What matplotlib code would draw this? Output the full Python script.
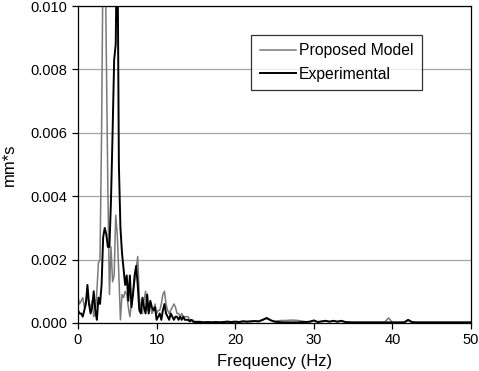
import numpy as np
import matplotlib
matplotlib.use("Agg")
import matplotlib.pyplot as plt
from matplotlib.ticker import FormatStrFormatter

plt.rcParams["font.family"] = ["Liberation Sans", "DejaVu Sans"]

# frequency grid: 0.2 Hz steps up to 15 Hz, then 0.5 Hz steps to 50 Hz
freq = np.round(np.concatenate([np.arange(0, 15.01, 0.2), np.arange(15.5, 50.01, 0.5)]), 2)

model_low = [
    0.0008, 0.0006, 0.0007, 0.0008, 0.0005, 0.0007, 0.0009, 0.0006, 0.0005, 0.0007,
    0.0002, 0.0003, 0.0010, 0.0019, 0.0020, 0.0060, 0.0120, 0.0130, 0.0085, 0.0042,
    0.0009, 0.0024, 0.0013, 0.0015, 0.0034, 0.0028, 0.0015, 0.0001, 0.0009, 0.0008,
    0.0010, 0.0009, 0.0005, 0.0002, 0.0006, 0.0010, 0.0013, 0.0017, 0.0021, 0.0008,
    0.0004, 0.0003, 0.0007, 0.0010, 0.0004, 0.0005, 0.0006, 0.0003, 0.0004, 0.0006,
    0.0003, 0.0004, 0.0004, 0.0006, 0.0009, 0.0010, 0.0006, 0.0004, 0.0003, 0.0004,
    0.0005, 0.0006, 0.0005, 0.0003, 0.0003, 0.0002, 0.0003, 0.0002, 0.0002, 0.0002,
    0.0002, 0.0001, 0.0001, 0.0001, 0.00005, 0.00005,
]
model_high = [
    0.00005, 0.00003, 0.00004, 0.00003, 0.00004, 0.00003, 0.00004, 0.00005, 0.00004, 0.00005,
    0.00004, 0.00006, 0.00005, 0.00006, 0.00007, 0.00006, 0.00010, 0.00014, 0.00008, 0.00006,
    0.00007, 0.00008, 0.00008, 0.00009, 0.00009, 0.00008, 0.00006, 0.00004, 0.00005, 0.00008,
    0.00004, 0.00005, 0.00006, 0.00005, 0.00006, 0.00005, 0.00006, 0.00004, 0.00003, 0.00002,
    0.00002, 0.00002, 0.00002, 0.00002, 0.00002, 0.00002, 0.00002, 0.00002, 0.00016, 0.00002,
    0.00002, 0.00002, 0.00002, 0.00008, 0.00002, 0.00002, 0.00002, 0.00002, 0.00002, 0.00002,
    0.00002, 0.00002, 0.00002, 0.00002, 0.00002, 0.00002, 0.00002, 0.00002, 0.00002, 0.00002,
]
exp_low = [
    0.0004, 0.0003, 0.0003, 0.0002, 0.0004, 0.0006, 0.0012, 0.0006, 0.0003, 0.0005,
    0.0010, 0.0004, 0.0001, 0.0008, 0.0006, 0.0012, 0.0027, 0.0030, 0.0028, 0.0024,
    0.0024, 0.0039, 0.0060, 0.0083, 0.0088, 0.0130, 0.0050, 0.0030, 0.0022, 0.0017,
    0.0012, 0.0015, 0.0007, 0.0015, 0.0005, 0.0009, 0.0015, 0.0018, 0.0012, 0.0004,
    0.0003, 0.0008, 0.0005, 0.0003, 0.0009, 0.0003, 0.0007, 0.0005, 0.0004, 0.0005,
    0.0001, 0.0002, 0.0003, 0.0001, 0.0004, 0.0006, 0.0003, 0.0002, 0.0001, 0.0003,
    0.0002, 0.0001, 0.0002, 0.0002, 0.0001, 0.0002, 0.0001, 0.0002, 0.0001, 0.0001,
    0.0001, 0.00005, 0.0001, 0.00005, 0.00003, 0.00003,
]
exp_high = [
    0.00003, 0.00002, 0.00003, 0.00002, 0.00003, 0.00002, 0.00003, 0.00004, 0.00003, 0.00004,
    0.00003, 0.00005, 0.00004, 0.00005, 0.00006, 0.00005, 0.00010, 0.00016, 0.00009, 0.00004,
    0.00003, 0.00002, 0.00002, 0.00002, 0.00002, 0.00002, 0.00003, 0.00003, 0.00004, 0.00008,
    0.00003, 0.00005, 0.00007, 0.00004, 0.00007, 0.00004, 0.00007, 0.00003, 0.00002, 0.00002,
    0.00002, 0.00002, 0.00002, 0.00002, 0.00002, 0.00002, 0.00002, 0.00002, 0.00002, 0.00002,
    0.00002, 0.00002, 0.00002, 0.00010, 0.00003, 0.00002, 0.00002, 0.00002, 0.00002, 0.00002,
    0.00002, 0.00002, 0.00002, 0.00002, 0.00002, 0.00002, 0.00002, 0.00002, 0.00002, 0.00002,
]

model = np.array(model_low + model_high)
experimental = np.array(exp_low + exp_high)

fig = plt.figure(figsize=(4.79, 3.71), dpi=100)
ax = fig.add_axes([78 / 479, 1 - 323 / 371, (471 - 78) / 479, (323 - 6) / 371])

ax.plot(freq, model, color="#7a7a7a", linewidth=1.1, label="Proposed Model")
ax.plot(freq, experimental, color="black", linewidth=1.4, label="Experimental")

ax.set_xlim(0, 50)
ax.set_ylim(0, 0.010)
ax.set_xticks(np.arange(0, 51, 10))
ax.set_yticks(np.arange(0, 0.0101, 0.002))
ax.yaxis.set_major_formatter(FormatStrFormatter("%.3f"))
ax.grid(axis="y", color="#a6a6a6", linewidth=0.9)
ax.set_axisbelow(True)
ax.tick_params(labelsize=10.5, length=4, width=0.9, color="black")
for s in ax.spines.values():
    s.set_linewidth(0.9)
    s.set_color("black")

ax.set_xlabel("Frequency (Hz)", fontsize=12, labelpad=5)
ax.set_ylabel("mm*s", fontsize=12, labelpad=10)

leg = ax.legend(loc="upper left", bbox_to_anchor=(0.44, 0.91), fontsize=11.3,
                frameon=True, fancybox=False, handlelength=2.3, handletextpad=0.2,
                borderpad=0.55, labelspacing=0.55, borderaxespad=0)
leg.get_frame().set_edgecolor("black")
leg.get_frame().set_linewidth(0.9)

fig.savefig("out.png", dpi=100)
